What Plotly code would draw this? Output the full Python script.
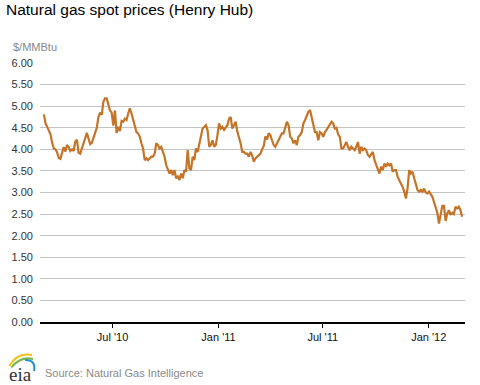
import pandas as pd
import plotly.graph_objects as go

# Henry Hub spot price, $/MMBtu (evenly spaced samples)
start_date = "2010-03-03 18:00"
end_date = "2012-02-28"
prices = [
    4.81, 4.60, 4.52, 4.42, 4.35, 4.15, 4.02, 4.00, 3.93, 3.80,
    3.78, 3.92, 4.05, 3.95, 4.10, 4.05, 3.96, 4.00, 3.96, 4.18,
    4.22, 3.92, 3.90, 4.02, 4.15, 4.28, 4.38, 4.25, 4.12, 4.15,
    4.30, 4.38, 4.50, 4.75, 4.85, 4.80, 5.10, 5.18, 5.18, 5.05,
    4.90, 4.85, 4.55, 4.90, 4.38, 4.52, 4.42, 4.66, 4.64, 4.71,
    4.68, 4.83, 4.95, 4.83, 4.68, 4.52, 4.40, 4.37, 4.29, 4.14,
    4.02, 3.75, 3.79, 3.75, 3.79, 3.83, 3.83, 3.90, 4.14, 4.10,
    4.02, 4.06, 3.94, 3.83, 3.63, 3.52, 3.44, 3.52, 3.40, 3.52,
    3.33, 3.37, 3.29, 3.44, 3.33, 3.52, 3.48, 3.98, 3.56, 3.52,
    3.83, 3.75, 4.02, 3.94, 4.14, 4.33, 4.48, 4.52, 4.56, 4.45,
    4.06, 4.10, 4.21, 4.06, 4.10, 4.33, 4.60, 4.48, 4.52, 4.45,
    4.52, 4.56, 4.71, 4.75, 4.48, 4.56, 4.64, 4.41, 4.29, 4.14,
    3.94, 3.94, 3.90, 3.90, 3.83, 3.94, 3.86, 3.71, 3.79, 3.83,
    3.86, 3.90, 4.00, 4.08, 4.30, 4.23, 4.37, 4.33, 4.21, 4.10,
    4.06, 4.14, 4.25, 4.29, 4.37, 4.37, 4.48, 4.64, 4.56, 4.29,
    4.25, 4.14, 4.21, 4.10, 4.29, 4.33, 4.40, 4.60, 4.68, 4.79,
    4.87, 4.91, 4.75, 4.60, 4.40, 4.40, 4.21, 4.40, 4.37, 4.29,
    4.40, 4.45, 4.52, 4.60, 4.64, 4.60, 4.48, 4.50, 4.35, 4.29,
    4.02, 4.02, 4.10, 4.17, 4.06, 3.98, 4.06, 4.02, 3.98, 4.06,
    4.17, 3.90, 4.06, 3.98, 4.02, 3.98, 3.87, 3.83, 3.90, 3.94,
    3.75, 3.63, 3.56, 3.44, 3.60, 3.52, 3.67, 3.60, 3.67, 3.63,
    3.67, 3.48, 3.52, 3.52, 3.36, 3.29, 3.21, 3.13, 3.02, 2.86,
    3.10, 3.52, 3.44, 3.48, 3.33, 3.21, 3.06, 3.02, 3.06, 3.02,
    3.09, 3.00, 2.98, 3.02, 2.96, 2.90, 2.78, 2.65, 2.53, 2.28,
    2.52, 2.69, 2.69, 2.34, 2.51, 2.59, 2.48, 2.53, 2.50, 2.67,
    2.63, 2.67, 2.59, 2.44,
]
dates = pd.date_range(start_date, end_date, periods=len(prices))

tick_dates = ["2010-07-01", "2011-01-01", "2011-07-01", "2012-01-01"]
tick_labels = ["Jul '10", "Jan '11", "Jul '11", "Jan '12"]
y_ticks = [i * 0.5 for i in range(13)]
y_labels = [f"{v:.2f}" for v in y_ticks]

W, H = 480, 385
L, R, T, B = 35, 15, 63, 63
pw, ph = W - L - R, H - T - B

def px(x):
    return (x - L) / pw

def py(y):
    return (H - B - y) / ph

fig = go.Figure()
fig.add_trace(go.Scatter(
    x=dates, y=prices, mode="lines",
    line=dict(color="#c57427", width=2.2),
    hoverinfo="skip", showlegend=False,
))

fig.update_layout(
    width=W, height=H,
    margin=dict(l=L, r=R, t=T, b=B),
    paper_bgcolor="white", plot_bgcolor="white",
    font=dict(family="Liberation Sans, Arial, sans-serif", size=11, color="#333333"),
    title=dict(
        text="Natural gas spot prices (Henry Hub)",
        x=6 / W, xanchor="left", xref="container",
        y=1 - 10 / H, yanchor="middle", yref="container",
        font=dict(size=15.5, color="#000000"),
    ),
    xaxis=dict(
        type="date",
        range=["2010-02-25", "2012-03-04"],
        tickvals=tick_dates, ticktext=tick_labels,
        showgrid=False, zeroline=False,
        showline=True, linecolor="#000000", linewidth=1.5,
        ticks="outside", ticklen=4, tickcolor="#000000", tickwidth=1,
        tickfont=dict(size=11, color="#111111"),
    ),
    yaxis=dict(
        range=[0, 6],
        tickvals=y_ticks, ticktext=y_labels,
        showgrid=True, gridcolor="#c4c4c4", gridwidth=1,
        zeroline=False, showline=False, ticks="",
        ticklabelstandoff=6,
        tickfont=dict(size=11, color="#333333"),
    ),
    showlegend=False,
)

fig.add_annotation(
    text="$/MMBtu", x=px(6), y=py(47), xref="paper", yref="paper",
    xanchor="left", yanchor="middle", showarrow=False,
    font=dict(size=11, color="#888888"),
)
fig.add_annotation(
    text="Source: Natural Gas Intelligence", x=px(38), y=py(373),
    xref="paper", yref="paper", xanchor="left", yanchor="middle",
    showarrow=False, font=dict(size=11, color="#8a8a8a"),
)
fig.add_annotation(
    text="eia", x=px(15), y=py(374), xref="paper", yref="paper",
    xanchor="center", yanchor="middle", showarrow=False,
    font=dict(family="Liberation Serif, DejaVu Serif, serif", size=19, color="#333333"),
)

def arc(p0, c, p1, color):
    path = (f"M {px(p0[0])},{py(p0[1])} Q {px(c[0])},{py(c[1])} "
            f"{px(p1[0])},{py(p1[1])}")
    fig.add_shape(type="path", path=path, xref="paper", yref="paper",
                  line=dict(color=color, width=2))

arc((4, 366), (12, 352), (27, 355), "#f2c21b")
arc((6, 367.5), (15, 356), (28, 359), "#79b843")
arc((20, 360), (31, 360), (29, 371), "#1d8fd0")

fig.write_html("out.html", config={"displayModeBar": False},
               post_script="document.body.style.margin='0px';")
